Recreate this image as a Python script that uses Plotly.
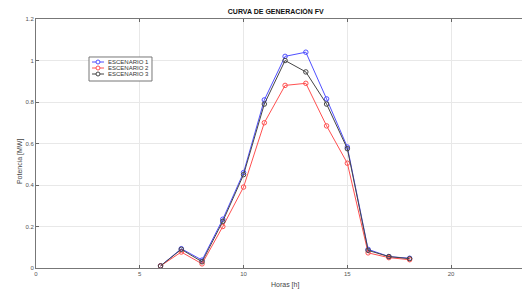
import plotly.graph_objects as go

horas = [6, 7, 8, 9, 10, 11, 12, 13, 14, 15, 16, 17, 18]
escenario1 = [0.01, 0.093, 0.038, 0.235, 0.46, 0.81, 1.02, 1.04, 0.815, 0.583, 0.09, 0.055, 0.047]
escenario2 = [0.01, 0.077, 0.02, 0.20, 0.39, 0.70, 0.88, 0.89, 0.685, 0.505, 0.073, 0.05, 0.04]
escenario3 = [0.01, 0.09, 0.03, 0.225, 0.45, 0.79, 1.0, 0.945, 0.79, 0.575, 0.085, 0.055, 0.045]
nombres = ["ESCENARIO 1", "ESCENARIO 2", "ESCENARIO 3"]
colores = ["#5050ff", "#ff5050", "#454545"]
x_ticks = [0, 5, 10, 15, 20]
y_ticks = [0, 0.2, 0.4, 0.6, 0.8, 1, 1.2]
y_ticktext = ["0", "0.2", "0.4", "0.6", "0.8", "1", "1.2"]

FONT = "Liberation Sans, Arial"

fig = go.Figure()
for y, n, c in zip([escenario1, escenario2, escenario3], nombres, colores):
    fig.add_trace(go.Scatter(
        x=horas, y=y, name=n, mode="lines+markers", showlegend=False,
        line=dict(color=c, width=1),
        marker=dict(symbol="circle-open", size=4.5, color=c, line=dict(width=1, color=c)),
    ))

axis_common = dict(
    showgrid=True, gridcolor="#e8e8e8", gridwidth=1,
    showline=True, linecolor="#777777", linewidth=1, mirror="ticks",
    ticks="inside", ticklen=3, tickcolor="#666666",
    tickfont=dict(family=FONT, size=6, color="#555555"),
    zeroline=False, automargin=False,
)

# compact legend (MATLAB style) built from the series names / colours
leg_x0, leg_x1, leg_y0, leg_y1 = 0.1073, 0.2348, 0.751, 0.8474
entry_y = [0.8273, 0.8032, 0.7791]
shapes = [dict(type="rect", xref="paper", yref="paper", x0=leg_x0, x1=leg_x1, y0=leg_y0, y1=leg_y1,
               line=dict(color="#777777", width=1), fillcolor="white", layer="above")]
annotations = []
for n, c, ey in zip(nombres, colores, entry_y):
    shapes.append(dict(type="line", xref="paper", yref="paper", x0=0.1134, x1=0.1377, y0=ey, y1=ey,
                       line=dict(color=c, width=1), layer="above"))
    shapes.append(dict(type="circle", xref="paper", yref="paper", xsizemode="pixel", ysizemode="pixel",
                       xanchor=0.1255, yanchor=ey, x0=-2, x1=2, y0=-2, y1=2,
                       line=dict(color=c, width=1), fillcolor="white", layer="above"))
    annotations.append(dict(text=n, xref="paper", yref="paper", x=0.1417, y=ey, xanchor="left",
                            yanchor="middle", showarrow=False,
                            font=dict(family=FONT, size=6, color="#333333")))

annotations.append(dict(text="Horas [h]", xref="paper", yref="paper", x=0.504, y=-0.068,
                        xanchor="center", yanchor="middle", showarrow=False,
                        font=dict(family=FONT, size=7, color="#444444")))
annotations.append(dict(text="Potencia [MW]", xref="paper", yref="paper", x=-0.032, y=0.43,
                        xanchor="center", yanchor="middle", showarrow=False, textangle=-90,
                        font=dict(family=FONT, size=7, color="#444444")))

fig.update_layout(
    width=522, height=283,
    margin=dict(l=28, r=0, t=11, b=23),
    paper_bgcolor="white", plot_bgcolor="white",
    title=dict(text="<b>CURVA DE GENERACIÓN FV</b>", x=0.513, xanchor="center", y=0.986,
               yanchor="middle", font=dict(family=FONT, size=7, color="#111111")),
    xaxis=dict(range=[0, 23.8], tickvals=x_ticks, **axis_common),
    yaxis=dict(range=[0, 1.2], tickvals=y_ticks, ticktext=y_ticktext, **axis_common),
    shapes=shapes,
    annotations=annotations,
    showlegend=False,
)

fig.write_html("out.html")
